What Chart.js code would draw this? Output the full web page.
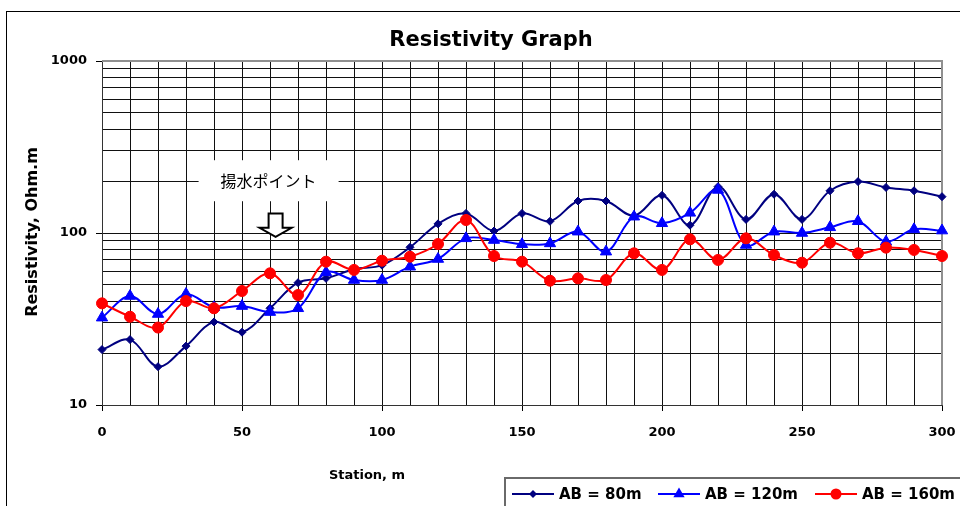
<!DOCTYPE html>
<html lang="ja">
<head>
    <meta charset="UTF-8">
    <title>Resistivity Graph</title>
    <script src="https://cdn.jsdelivr.net/npm/chart.js"></script>
    <style>
        body { margin: 0; background: #fff; }
        canvas { display: block; }
    </style>
</head>
<body>
    <canvas id="resChart" width="960" height="506"></canvas>

    <script>
        // data
        const stations = [0, 10, 20, 30, 40, 50, 60, 70, 80, 90, 100, 110, 120, 130, 140, 150,
                          160, 170, 180, 190, 200, 210, 220, 230, 240, 250, 260, 270, 280, 290, 300];
        const ab80 = [21, 24, 16.7, 22, 30.4, 26.5, 36.5, 51.4, 54.5, 61.5, 65, 82.6, 113, 130, 102.7, 130,
                      117, 153.5, 153.5, 126, 165.6, 111, 186, 120, 168, 120, 176, 199, 184, 176, 162.6];
        const ab120 = [32.2, 43, 33.8, 44.2, 37, 37.6, 34.7, 36.5, 59.1, 53.3, 53.3, 63.7, 70.6, 93.1, 91, 86,
                       87, 101.8, 77.9, 124.4, 113.9, 131, 178, 85.2, 101.8, 100, 107.9, 117, 89, 105, 103.3];
        const ab160 = [39, 32.6, 28.2, 40.2, 36.5, 46, 58.3, 43.6, 68.1, 61, 69, 72.8, 86.3, 119, 73.5, 68.1,
                       52.8, 54.5, 53.3, 76.2, 61, 91.9, 69.7, 93.1, 74.5, 67.2, 87.8, 76.2, 82.2, 79.7, 73.5];
        const seriesNames = ['AB = 80m', 'AB = 120m', 'AB = 160m'];

        const yGrid = [10, 20, 30, 40, 50, 60, 70, 80, 90, 100, 200, 300, 400, 500, 600, 700, 800, 900, 1000];
        const yLabels = [10, 100, 1000];
        const xLabelStep = 50;

        // annotation position (station, resistivity)
        const noteText = '揚水ポイント';
        const note = { x: 59.5, y: 200 };
        const arrow = { x: 62, top: 130, tip: 95 };

        const FONT = '"DejaVu Sans", sans-serif';

        function toPoints(vals) {
            return vals.map((v, i) => ({ x: stations[i], y: v }));
        }

        const extras = {
            id: 'extras',
            beforeDatasetsDraw(chart) {
                const c = chart.ctx, xs = chart.scales.x, ys = chart.scales.y;
                // label box for the pumping point
                const nx = xs.getPixelForValue(note.x), ny = ys.getPixelForValue(note.y);
                c.save();
                c.fillStyle = '#fff';
                c.fillRect(nx - 70, ny - 21, 140, 41);
                c.fillStyle = '#000';
                c.font = '16px "Noto Sans CJK JP", sans-serif';
                c.textAlign = 'center';
                c.textBaseline = 'middle';
                c.fillText(noteText, nx, ny);

                // down arrow
                const ax = xs.getPixelForValue(arrow.x);
                const top = ys.getPixelForValue(arrow.top), tip = ys.getPixelForValue(arrow.tip);
                const neck = tip - 9;
                c.beginPath();
                c.moveTo(ax - 7, top);
                c.lineTo(ax + 7, top);
                c.lineTo(ax + 7, neck);
                c.lineTo(ax + 16, neck);
                c.lineTo(ax, tip);
                c.lineTo(ax - 16, neck);
                c.lineTo(ax - 7, neck);
                c.closePath();
                c.fillStyle = '#fff';
                c.fill();
                c.lineWidth = 2;
                c.strokeStyle = '#000';
                c.stroke();

                // plot frame top/right
                const a = chart.chartArea;
                c.strokeStyle = '#909090';
                c.lineWidth = 2;
                c.beginPath();
                c.moveTo(a.left, a.top);
                c.lineTo(a.right, a.top);
                c.lineTo(a.right, a.bottom);
                c.stroke();
                c.restore();
            },
            afterDraw(chart) {
                const c = chart.ctx;
                c.save();
                // outer frame
                c.strokeStyle = '#000';
                c.lineWidth = 1;
                c.strokeRect(6.5, 11.5, 1000, 600);

                // titles
                c.fillStyle = '#000';
                c.textAlign = 'center';
                c.textBaseline = 'alphabetic';
                c.font = 'bold 21px ' + FONT;
                c.fillText('Resistivity Graph', 491, 46);
                c.font = 'bold 13px ' + FONT;
                c.textBaseline = 'middle';
                c.fillText('Station, m', 367, 476);
                c.save();
                c.translate(33, 232);
                c.rotate(-Math.PI / 2);
                c.font = 'bold 16px ' + FONT;
                c.fillText('Resistivity, Ohm.m', 0, 0);
                c.restore();

                // legend
                c.fillStyle = '#fff';
                c.fillRect(505, 478, 470, 40);
                c.strokeStyle = '#6a6a6a';
                c.lineWidth = 2;
                c.strokeRect(505, 478, 470, 40);
                const starts = [512, 658, 815];
                const ly = 494;
                chart.data.datasets.forEach((ds, i) => {
                    const x0 = starts[i];
                    c.strokeStyle = ds.borderColor;
                    c.lineWidth = 2;
                    c.beginPath();
                    c.moveTo(x0, ly);
                    c.lineTo(x0 + 42, ly);
                    c.stroke();
                    drawMarker(c, ds, x0 + 21, ly);
                    c.fillStyle = '#000';
                    c.font = 'bold 15px ' + FONT;
                    c.textAlign = 'left';
                    c.textBaseline = 'middle';
                    c.fillText(seriesNames[i], x0 + 47, ly + 1);
                });
                c.restore();
            }
        };

        function drawMarker(c, ds, x, y) {
            const r = ds.pointRadius;
            c.fillStyle = ds.pointBackgroundColor;
            c.beginPath();
            if (ds.pointStyle === 'rectRot') {
                c.moveTo(x, y - r); c.lineTo(x + r, y); c.lineTo(x, y + r); c.lineTo(x - r, y);
            } else if (ds.pointStyle === 'triangle') {
                c.moveTo(x, y - r);
                c.lineTo(x + r * 0.866, y + r * 0.5);
                c.lineTo(x - r * 0.866, y + r * 0.5);
            } else {
                c.arc(x, y, r, 0, Math.PI * 2);
            }
            c.closePath();
            c.fill();
        }

        const common = { borderWidth: 2, tension: 0.35, clip: false, pointBorderWidth: 1 };

        new Chart(document.getElementById('resChart').getContext('2d'), {
            type: 'line',
            data: {
                datasets: [
                    { ...common, label: seriesNames[0], data: toPoints(ab80), order: 2,
                      borderColor: '#000080', pointBackgroundColor: '#000080', pointBorderColor: '#000080',
                      pointStyle: 'rectRot', pointRadius: 4 },
                    { ...common, label: seriesNames[1], data: toPoints(ab120), order: 1,
                      borderColor: '#0000ff', pointBackgroundColor: '#0000ff', pointBorderColor: '#0000ff',
                      pointStyle: 'triangle', pointRadius: 6.5 },
                    { ...common, label: seriesNames[2], data: toPoints(ab160), order: 0,
                      borderColor: '#ff0000', pointBackgroundColor: '#ff0000', pointBorderColor: '#ff0000',
                      pointStyle: 'circle', pointRadius: 5.5 }
                ]
            },
            options: {
                responsive: false,
                animation: false,
                layout: { padding: { left: 0, top: 61, right: 18, bottom: 0 } },
                plugins: { legend: { display: false }, tooltip: { enabled: false } },
                scales: {
                    x: {
                        type: 'linear', min: 0, max: 300,
                        afterFit(scale) {
                            scale.height = 101;
                            scale.paddingLeft = 0;
                            scale.paddingRight = 0;
                        },
                        border: { color: '#333', width: 1 },
                        grid: {
                            color: '#111', lineWidth: 1, tickLength: 6,
                            tickColor: ctx => (ctx.tick && ctx.tick.value % xLabelStep === 0) ? '#000' : 'rgba(0,0,0,0)'
                        },
                        ticks: {
                            stepSize: 10, autoSkip: false, maxRotation: 0, padding: 14, color: '#000',
                            font: { family: FONT, weight: 'bold', size: 13 },
                            callback: v => (v % xLabelStep === 0 ? String(v) : '')
                        }
                    },
                    y: {
                        type: 'logarithmic', min: 10, max: 1000,
                        afterFit(scale) {
                            scale.width = 102;
                            scale.paddingTop = 0;
                            scale.paddingBottom = 0;
                        },
                        afterBuildTicks(scale) { scale.ticks = yGrid.map(v => ({ value: v })); },
                        border: { color: '#333', width: 1 },
                        grid: {
                            color: '#111', lineWidth: 1, tickLength: 6,
                            tickColor: ctx => (ctx.tick && yLabels.includes(ctx.tick.value)) ? '#000' : 'rgba(0,0,0,0)'
                        },
                        ticks: {
                            autoSkip: false, padding: 9, color: '#000',
                            font: { family: FONT, weight: 'bold', size: 13 },
                            callback: v => (yLabels.includes(v) ? String(v) : '')
                        }
                    }
                }
            },
            plugins: [extras]
        });
    </script>
</body>
</html>
